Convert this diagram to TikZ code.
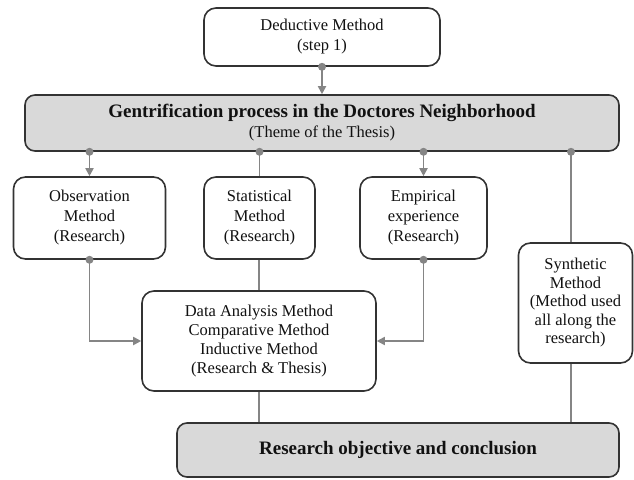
\documentclass[tikz,border=0pt]{standalone}
\usepackage{fontspec}
\setmainfont{Liberation Serif}
\usetikzlibrary{arrows.meta,calc}
\definecolor{boxline}{HTML}{333333}
\definecolor{conn}{HTML}{858585}
\definecolor{boxfill}{HTML}{D9D9D9}
\definecolor{txt}{HTML}{111111}
\begin{document}
\begin{tikzpicture}[x=1pt,y=-1pt,
  box/.style={draw=boxline, line width=1.6pt, rounded corners=12pt, fill=white, align=center,
    text=txt, inner sep=0pt, font=\fontsize{16.5}{20}\selectfont},
  greybox/.style={box, fill=boxfill, rounded corners=10pt},
  conline/.style={draw=conn, line width=1.8pt},
  conarrow/.style={conline, -{Triangle[length=8pt,width=8pt]}},
  dot/.style={fill=conn}
]
\useasboundingbox (0,0) rectangle (634,479);

\node[box, minimum width=236pt, minimum height=58pt] (ded) at (322,37)
  {Deductive Method\\(step 1)};
\node[greybox, minimum width=594pt, minimum height=56pt] (gen) at (322,123)
  {\fontsize{19}{21}\selectfont\bfseries Gentrification process in the Doctores Neighborhood\\
   \fontsize{16.5}{20}\selectfont (Theme of the Thesis)};
\node[box, minimum width=152pt, minimum height=82pt] (obs) at (89.5,218)
  {Observation\\Method\\(Research)};
\node[box, minimum width=111pt, minimum height=82pt] (stat) at (259.5,218)
  {Statistical\\Method\\(Research)};
\node[box, minimum width=127pt, minimum height=82pt] (emp) at (423.5,218)
  {Empirical\\experience\\(Research)};
\node[box, minimum width=114pt, minimum height=120pt,
  font=\fontsize{16.5}{18.5}\selectfont] (syn) at (575.5,303)
  {Synthetic\\Method\\(Method used\\all along the\\research)};
\node[box, minimum width=234pt, minimum height=100pt,
  font=\fontsize{16.5}{19}\selectfont] (data) at (259,341)
  {Data Analysis Method\\Comparative Method\\Inductive Method\\(Research \& Thesis)};
\node[greybox, minimum width=442pt, minimum height=54pt,
  font=\fontsize{19}{21}\selectfont\bfseries] (res) at (398,450)
  {Research objective and conclusion};

\coordinate (sx) at (571,0);

% connectors
\draw[conarrow] (ded.south) -- (gen.north);
\fill[dot] (ded.south) circle (4pt);

\draw[conarrow] (gen.south -| obs.north) -- (obs.north);
\fill[dot] (gen.south -| obs.north) circle (4pt);

\draw[conline] (gen.south -| stat.north) -- (stat.north);
\fill[dot] (gen.south -| stat.north) circle (4pt);

\draw[conarrow] (gen.south -| emp.north) -- (emp.north);
\fill[dot] (gen.south -| emp.north) circle (4pt);

\draw[conline] (gen.south -| sx) -- (syn.north -| sx);
\fill[dot] (gen.south -| sx) circle (4pt);

\draw[conarrow] (obs.south) |- (data.west);
\fill[dot] (obs.south) circle (4pt);

\draw[conarrow] (emp.south) |- (data.east);
\fill[dot] (emp.south) circle (4pt);

\draw[conline] (stat.south -| data.north) -- (data.north);

\draw[conline] (data.south) -- (data.south |- res.north);
\draw[conline] (syn.south -| sx) -- (res.north -| sx);
\end{tikzpicture}
\end{document}
